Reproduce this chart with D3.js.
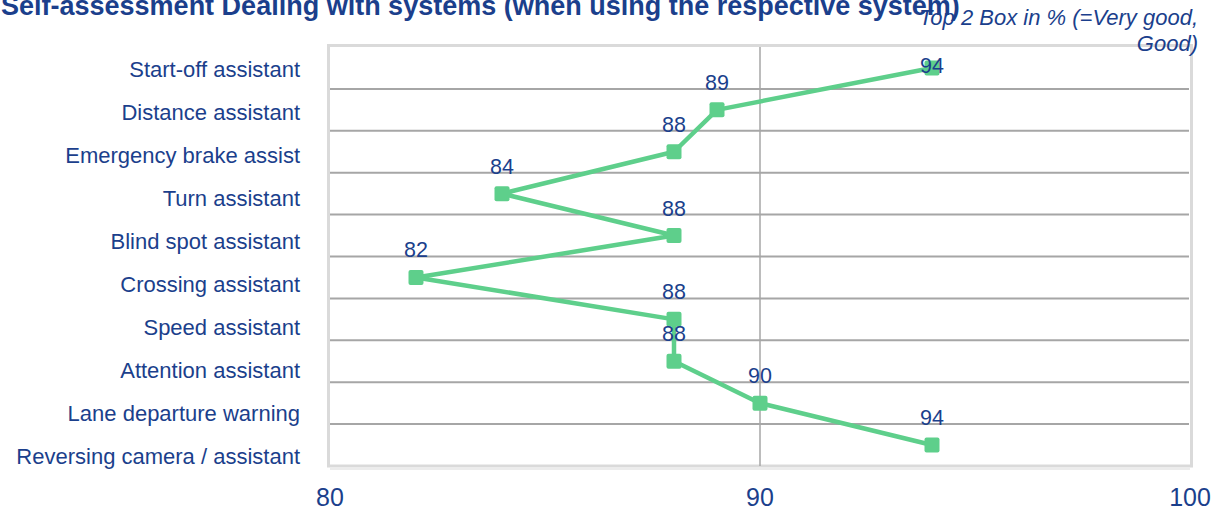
<!DOCTYPE html>
<html><head><meta charset="utf-8">
<script src="https://cdn.jsdelivr.net/npm/d3@7"></script>
<style>body{margin:0;background:#fff;}svg{display:block;font-family:"Liberation Sans",Arial,sans-serif;}</style>
</head><body>
<svg id="c" width="1225" height="511"></svg>
<script>
const categories = ["Start-off assistant","Distance assistant","Emergency brake assist","Turn assistant","Blind spot assistant","Crossing assistant","Speed assistant","Attention assistant","Lane departure warning","Reversing camera / assistant"];
const values = [94, 89, 88, 84, 88, 82, 88, 88, 90, 94];
const xTicks = [80, 90, 100];
const title = "Self-assessment Dealing with systems (when using the respective system)";
const subtitleLines = ["Top 2 Box in % (=Very good,", "Good)"];

const svg = d3.select("#c");
const blue = "#1b3f8c", green = "#5ecf8b";
const L = 330, R = 1190, T = 47, B = 466;
const x = d3.scaleLinear().domain([80, 100]).range([L, R]);
const y = d3.scaleBand().domain(categories).range([T, B]);
const yLab = d3.scaleBand().domain(categories).range([T, 478]);

// border
svg.append("rect").attr("x", L - 1.5).attr("y", T - 1.5).attr("width", R - L + 3).attr("height", B - T + 1.5)
  .attr("fill", "none").attr("stroke", "#dadada").attr("stroke-width", 3);
// axis line under plot
svg.append("line").attr("x1", L).attr("x2", R).attr("y1", B + 3).attr("y2", B + 3).attr("stroke", "#e6e6e6").attr("stroke-width", 1.5);

// horizontal gridlines between categories
svg.append("g").selectAll("line").data(categories.slice(1)).join("line")
  .attr("x1", L).attr("x2", R - 1)
  .attr("y1", d => y(d)).attr("y2", d => y(d))
  .attr("stroke", "#a6a6a6").attr("stroke-width", 2);
// vertical gridlines
svg.append("g").selectAll("line").data(xTicks.slice(1, -1)).join("line")
  .attr("x1", d => x(d)).attr("x2", d => x(d)).attr("y1", T).attr("y2", B)
  .attr("stroke", "#a6a6a6").attr("stroke-width", 1.5);

// x tick labels
svg.append("g").selectAll("text").data(xTicks).join("text")
  .attr("x", d => x(d)).attr("y", 506).attr("text-anchor", "middle")
  .attr("font-size", 25).attr("fill", blue).text(d => d);

// category labels
svg.append("g").selectAll("text").data(categories).join("text")
  .attr("x", 300).attr("y", d => yLab(d) + yLab.bandwidth() / 2 + 8).attr("text-anchor", "end")
  .attr("font-size", 22).attr("fill", blue).text(d => d);

const pts = categories.map((c, i) => ({c, v: values[i]}));
const cy = d => y(d.c) + y.bandwidth() / 2;
svg.append("path").datum(pts)
  .attr("d", d3.line().x(d => x(d.v)).y(cy))
  .attr("fill", "none").attr("stroke", green).attr("stroke-width", 4.5).attr("stroke-linejoin", "round");
svg.append("g").selectAll("rect").data(pts).join("rect")
  .attr("x", d => x(d.v) - 7.5).attr("y", d => cy(d) - 7.5).attr("width", 15).attr("height", 15)
  .attr("rx", 2).attr("fill", green);

// data labels
svg.append("g").selectAll("text").data(pts).join("text")
  .attr("x", d => x(d.v)).attr("y", d => Math.max(cy(d) - 27.5, T + 18.5) + 7.5)
  .attr("text-anchor", "middle").attr("font-size", 21.5).attr("fill", blue).text(d => d.v);

// title
svg.append("text").attr("x", 1).attr("y", 15).attr("font-size", 27).attr("font-weight", "bold")
  .attr("fill", blue).text(title);
// subtitle
svg.append("g").selectAll("text").data(subtitleLines).join("text")
  .attr("x", 1198).attr("y", (d, i) => 25 + i * 26).attr("text-anchor", "end")
  .attr("font-size", 22).attr("font-style", "italic").attr("fill", blue).text(d => d);
</script>
</body></html>
